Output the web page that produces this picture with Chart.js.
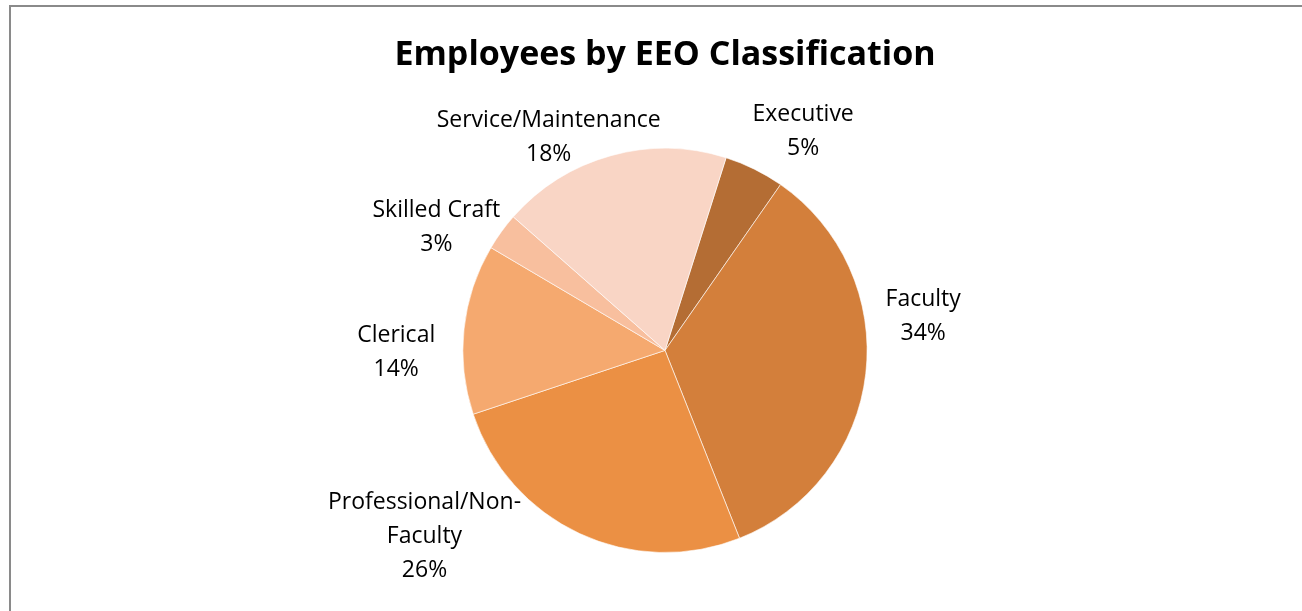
<!DOCTYPE html>
<html lang="en">
<head>
    <meta charset="UTF-8">
    <title>Employees by EEO Classification</title>
    <script src="https://cdn.jsdelivr.net/npm/chart.js"></script>
    <style>
        body {
            margin: 0;
            background: #ffffff;
            overflow: hidden;
            font-family: "Open Sans", Arial, sans-serif;
        }
        .frame {
            position: absolute;
            left: 9px;
            top: 5px;
            width: 1308px;
            height: 604px;
            border-left: 2px solid #8a8a8a;
            border-top: 2px solid #8a8a8a;
        }
        canvas {
            display: block;
        }
    </style>
</head>
<body>
    <div class="frame"><canvas id="eeoChart" width="1308" height="604"></canvas></div>

    <script>
        // EEO share of employees (percent), in drawing order clockwise
        const categories = ['Executive', 'Faculty', 'Professional/Non-Faculty', 'Clerical', 'Skilled Craft', 'Service/Maintenance'];
        const shares = [4.8, 34.3, 25.9, 13.6, 3.0, 18.4];
        const sliceColors = ['#b46d34', '#d37f3b', '#eb9044', '#f5a96f', '#f8bf9e', '#f9d5c5'];

        // label text lines for each slice (long names wrap like the original)
        const labelLines = [
            ['Executive'],
            ['Faculty'],
            ['Professional/Non-', 'Faculty'],
            ['Clerical'],
            ['Skilled Craft'],
            ['Service/Maintenance']
        ];

        // where each label sits: angle from 12 o'clock (deg) and distance in radii
        const labelSpots = [[32, 1.29], [82, 1.29], [232.5, 1.50], [270, 1.33], [298.7, 1.29], [331.6, 1.21]];

        const total = shares.reduce((a, b) => a + b, 0);

        const outsideLabels = {
            id: 'outsideLabels',
            afterDraw(chart) {
                const ctx = chart.ctx;
                const arc = chart.getDatasetMeta(0).data[0];
                const cx = arc.x, cy = arc.y, r = arc.outerRadius;
                ctx.save();
                ctx.fillStyle = '#000';
                ctx.font = '23px "Open Sans", Arial, sans-serif';
                ctx.textAlign = 'center';
                ctx.textBaseline = 'middle';
                const lineH = 34;
                shares.forEach((v, i) => {
                    const a = labelSpots[i][0] * Math.PI / 180;
                    const d = labelSpots[i][1] * r;
                    const x = cx + Math.sin(a) * d;
                    const y = cy - Math.cos(a) * d + 2;
                    const lines = labelLines[i].concat([Math.round(v / total * 100) + '%']);
                    const top = y - (lines.length - 1) * lineH / 2;
                    lines.forEach((t, j) => ctx.fillText(t, x, top + j * lineH));
                });
                ctx.restore();
            }
        };

        new Chart(document.getElementById('eeoChart'), {
            type: 'pie',
            data: {
                labels: categories,
                datasets: [{
                    data: shares,
                    backgroundColor: sliceColors,
                    borderColor: 'rgba(255,255,255,0.6)',
                    borderWidth: 1
                }]
            },
            options: {
                responsive: false,
                animation: false,
                rotation: 17.6,
                layout: {
                    padding: { top: 0, bottom: 58, left: 200, right: 200 }
                },
                plugins: {
                    legend: { display: false },
                    tooltip: { enabled: false },
                    title: {
                        display: true,
                        text: 'Employees by EEO Classification',
                        color: '#000',
                        font: { family: '"Open Sans", Arial, sans-serif', size: 34, weight: 'bold', lineHeight: 1.2 },
                        padding: { top: 28, bottom: 72 }
                    }
                }
            },
            plugins: [outsideLabels]
        });
    </script>
</body>
</html>
